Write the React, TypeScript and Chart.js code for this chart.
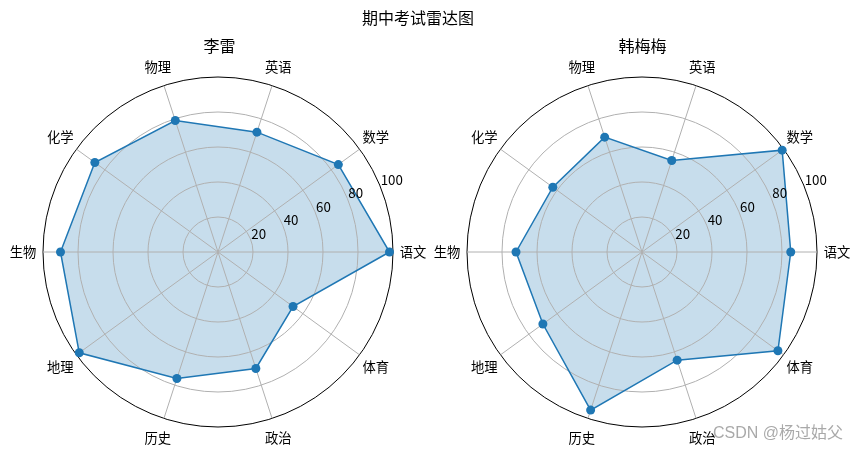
import React, { useEffect, useRef } from "react";
import { Chart, registerables } from "chart.js";

Chart.register(...registerables);

// ---- data ----
const categories = ["语文", "数学", "英语", "物理", "化学", "生物", "地理", "历史", "政治", "体育"];
const liLeiScores = [98, 85, 72, 79, 87, 90, 98, 76, 70, 53];
const hanMeimeiScores = [85, 99, 55, 69, 63, 72, 70, 95, 65, 96];
const radialTicks = [20, 40, 60, 80, 100];
const radialMax = 100;
const suptitle = "期中考试雷达图";
const subplotTitles = ["李雷", "韩梅梅"];
const watermark = "CSDN @杨过姑父";

const CJK = '"Noto Sans CJK SC", "Noto Sans", sans-serif';
const LINE = "#1f77b4";
const FILL = "rgba(31,119,180,0.25)";
const GRID = "#b0b0b0";

// matplotlib goes counter-clockwise from the right; Chart.js goes clockwise
const n = categories.length;
const order = categories.map((_, i) => (n - i) % n);

const polarDecor = {
  id: "polarDecor",
  afterDraw(chart: any) {
    const scale = chart.scales.r;
    const ctx = chart.ctx;
    ctx.save();
    ctx.fillStyle = "#000";
    ctx.font = `13.33px ${CJK}`;
    ctx.textAlign = "center";
    ctx.textBaseline = "middle";
    (chart.data.labels as string[]).forEach((lab, i) => {
      const p = scale.getPointPosition(i, scale.drawingArea + 20);
      ctx.fillText(lab, p.x, p.y);
    });
    const ang = (22.5 * Math.PI) / 180;
    ctx.textAlign = "left";
    ctx.textBaseline = "alphabetic";
    radialTicks.forEach((v) => {
      const d = scale.getDistanceFromCenterForValue(v);
      ctx.fillText(String(v), scale.xCenter + d * Math.cos(ang) + 1, scale.yCenter - d * Math.sin(ang));
    });
    ctx.restore();
  },
};

function Radar(props: { values: number[]; width: number; left: number; padding: any }) {
  const ref = useRef<HTMLCanvasElement | null>(null);
  useEffect(() => {
    if (!ref.current) return;
    const chart = new Chart(ref.current, {
      type: "radar",
      data: {
        labels: order.map((i) => categories[i]),
        datasets: [
          {
            data: order.map((i) => props.values[i]),
            borderColor: LINE,
            backgroundColor: FILL,
            borderWidth: 1.5,
            fill: true,
            tension: 0,
            pointRadius: 4.5,
            pointBackgroundColor: LINE,
            pointBorderColor: LINE,
            pointBorderWidth: 0,
          },
        ],
      },
      options: {
        responsive: false,
        animation: false,
        devicePixelRatio: 1,
        layout: { padding: props.padding },
        plugins: {
          legend: { display: false },
          tooltip: { enabled: false },
          title: { display: false },
          filler: { drawTime: "beforeDraw" },
        },
        scales: {
          r: {
            min: 0,
            max: radialMax,
            startAngle: 90,
            ticks: { display: false, stepSize: 20 },
            pointLabels: { display: false },
            grid: {
              circular: true,
              color: (c: any) => (c.tick && c.tick.value === radialMax ? "#000" : GRID),
              lineWidth: 1,
            },
            angleLines: { color: GRID, lineWidth: 1 },
          },
        },
      },
      plugins: [polarDecor],
    } as any);
    return () => chart.destroy();
  }, []);
  return (
    <canvas
      ref={ref}
      width={props.width}
      height={455}
      style={{ position: "absolute", left: props.left, top: 0, width: props.width, height: 455 }}
    />
  );
}

const titleStyle = (cx: number, cy: number): React.CSSProperties => ({
  position: "absolute",
  left: cx - 100,
  top: cy - 11,
  width: 200,
  height: 22,
  lineHeight: "22px",
  textAlign: "center",
  fontFamily: CJK,
  fontSize: 16,
  color: "#000",
  whiteSpace: "nowrap",
});

export default function App() {
  return (
    <div style={{ position: "fixed", left: 0, top: 0, width: 861, height: 455, background: "#fff", overflow: "hidden" }}>
      <Radar values={liLeiScores} width={430} left={0} padding={{ left: 43, right: 36, top: 77, bottom: 27 }} />
      <Radar values={hanMeimeiScores} width={431} left={430} padding={{ left: 37, right: 43, top: 77, bottom: 27 }} />
      <div style={titleStyle(418, 17)}>{suptitle}</div>
      <div style={titleStyle(219.5, 45)}>{subplotTitles[0]}</div>
      <div style={titleStyle(642.5, 45)}>{subplotTitles[1]}</div>
      <div
        style={{
          position: "absolute",
          left: 713,
          top: 423,
          height: 20,
          lineHeight: "20px",
          fontFamily: '"Liberation Sans", "Noto Sans CJK SC", sans-serif',
          fontSize: 16,
          color: "rgba(140,140,140,0.75)",
          whiteSpace: "nowrap",
        }}
      >
        {watermark}
      </div>
    </div>
  );
}
